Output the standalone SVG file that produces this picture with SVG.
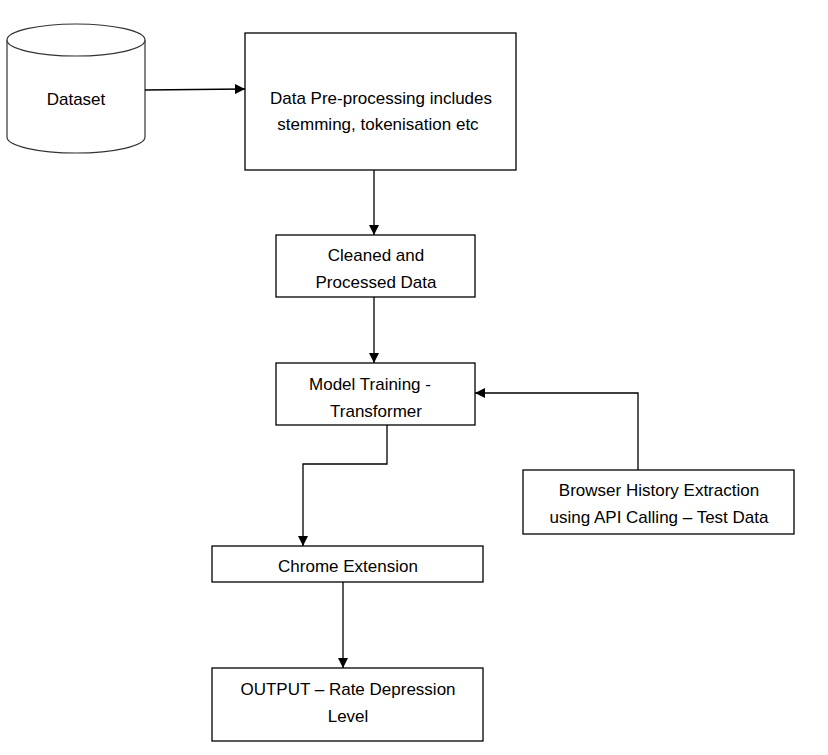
<svg xmlns="http://www.w3.org/2000/svg" width="828" height="755" viewBox="0 0 828 755">
<defs>
<marker id="arr" viewBox="0 0 10 10" refX="10" refY="5" markerWidth="10" markerHeight="10" markerUnits="userSpaceOnUse" orient="auto">
<path d="M0,0 L10,5 L0,10 Z" fill="#000"/>
</marker>
<style>
.box{fill:#fff;stroke:#000;stroke-width:1.3}
.cyl{fill:#fff;stroke:#333;stroke-width:1.2}
.t{font-family:"Liberation Sans",Arial,sans-serif;font-size:17px;fill:#000;text-anchor:middle}
.c{fill:none;stroke:#000;stroke-width:1.3;marker-end:url(#arr)}
</style>
</defs>
<rect width="828" height="755" fill="#fff"/>
<g id="dataset">
<path class="cyl" d="M7,40 L7,137 A69,16 0 0 0 145,137 L145,40"/>
<ellipse class="cyl" cx="76" cy="40" rx="69" ry="16"/>
<text class="t" x="76" y="105">Dataset</text>
</g>
<g id="preprocessing">
<rect class="box" x="245" y="33" width="271" height="137"/>
<text class="t" x="381" y="104">Data Pre-processing includes</text>
<text class="t" x="378" y="130">stemming, tokenisation etc</text>
</g>
<g id="cleaned">
<rect class="box" x="276" y="235" width="199" height="62"/>
<text class="t" x="376" y="261">Cleaned and</text>
<text class="t" x="376" y="288">Processed Data</text>
</g>
<g id="model">
<rect class="box" x="276" y="363" width="199" height="62"/>
<text class="t" x="370" y="390">Model Training -</text>
<text class="t" x="376" y="417">Transformer</text>
</g>
<g id="browser">
<rect class="box" x="523" y="470" width="271" height="64"/>
<text class="t" x="659" y="496">Browser History Extraction</text>
<text class="t" x="659" y="523">using API Calling – Test Data</text>
</g>
<g id="chrome">
<rect class="box" x="212" y="546" width="271" height="36"/>
<text class="t" x="348" y="572">Chrome Extension</text>
</g>
<g id="output">
<rect class="box" x="212" y="668" width="271" height="73"/>
<text class="t" x="348" y="695">OUTPUT – Rate Depression</text>
<text class="t" x="348" y="722">Level</text>
</g>
<g id="connectors">
<path class="c" d="M145,90 L245,89"/>
<path class="c" d="M374,170 L374,235"/>
<path class="c" d="M374,297 L374,363"/>
<path class="c" d="M387,425 L387,464 L303,464 L303,546"/>
<path class="c" d="M638,470 L638,393 L475,393"/>
<path class="c" d="M343,582 L343,668"/>
</g>
</svg>
